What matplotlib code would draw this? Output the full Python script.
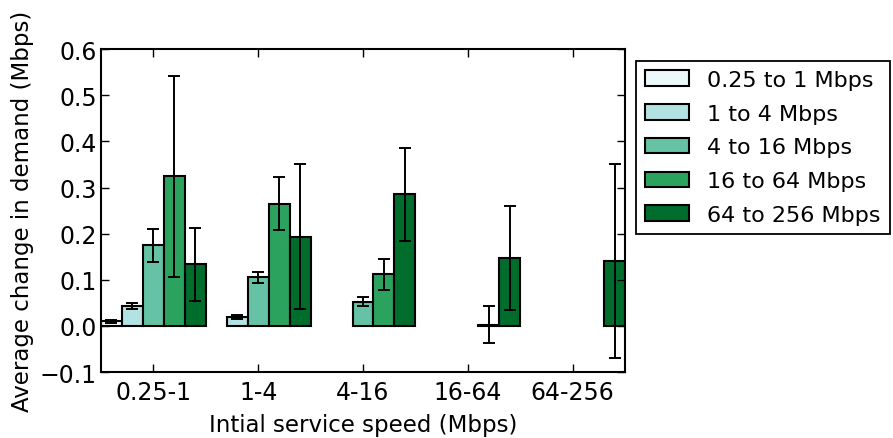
import numpy as np
import matplotlib
matplotlib.use("Agg")
import matplotlib.pyplot as plt

groups = ["0.25-1", "1-4", "4-16", "16-64", "64-256"]
series = ["0.25 to 1 Mbps", "1 to 4 Mbps", "4 to 16 Mbps", "16 to 64 Mbps", "64 to 256 Mbps"]
colors = ["#edf8fb", "#b2e2e2", "#66c2a4", "#2ca25f", "#006d2c"]

nan = np.nan
# rows = series (target speed), columns = initial speed group
means = np.array([
    [0.010, nan, nan, nan, nan],
    [0.043, 0.020, nan, nan, nan],
    [0.175, 0.106, 0.053, nan, nan],
    [0.324, 0.265, 0.112, 0.003, nan],
    [0.134, 0.193, 0.285, 0.148, 0.141],
])
errs = np.array([
    [0.003, nan, nan, nan, nan],
    [0.007, 0.004, nan, nan, nan],
    [0.036, 0.012, 0.010, nan, nan],
    [0.218, 0.057, 0.034, 0.040, nan],
    [0.079, 0.157, 0.100, 0.113, 0.210],
])

fig = plt.figure(figsize=(8.93, 4.39), dpi=100)
ax = fig.add_axes([0.113, 0.150, 0.587, 0.736])

width = 0.2
ind = np.arange(len(groups))
handles = []
for j in range(len(series)):
    ok = ~np.isnan(means[j])
    x = ind[ok] - 0.5 + j * width
    b = ax.bar(x, means[j][ok], width, align="edge", color=colors[j],
               edgecolor="black", linewidth=1.5, label=series[j])
    ax.errorbar(x + width / 2, means[j][ok], yerr=errs[j][ok], fmt="none",
                ecolor="black", elinewidth=1.4, capsize=4.5, capthick=1.4)
    handles.append(b)

ax.set_xlim(-0.5, len(groups) - 0.5)
ax.set_ylim(-0.1, 0.6)
ax.set_xticks(ind)
ax.set_xticklabels(groups)
ax.set_yticks(np.arange(-0.1, 0.61, 0.1))
ax.tick_params(direction="in", top=True, right=True, length=6, width=1,
               labelsize=17)
ax.tick_params(axis="x", pad=6)
ax.tick_params(axis="y", pad=3)
for s in ax.spines.values():
    s.set_linewidth(1.5)
ax.set_xlabel("Intial service speed (Mbps)", fontsize=16.5, labelpad=6)
ax.set_ylabel("Average change in demand (Mbps)", fontsize=16.5, labelpad=4)

leg = fig.legend(handles=handles, loc="upper left",
                 bbox_to_anchor=(636 / 893, 1 - 62 / 439),
                 borderaxespad=0, fancybox=False, framealpha=1,
                 edgecolor="black", fontsize=16, labelspacing=0.62)
leg.get_frame().set_linewidth(1.3)

fig.savefig("out.png", dpi=100)
